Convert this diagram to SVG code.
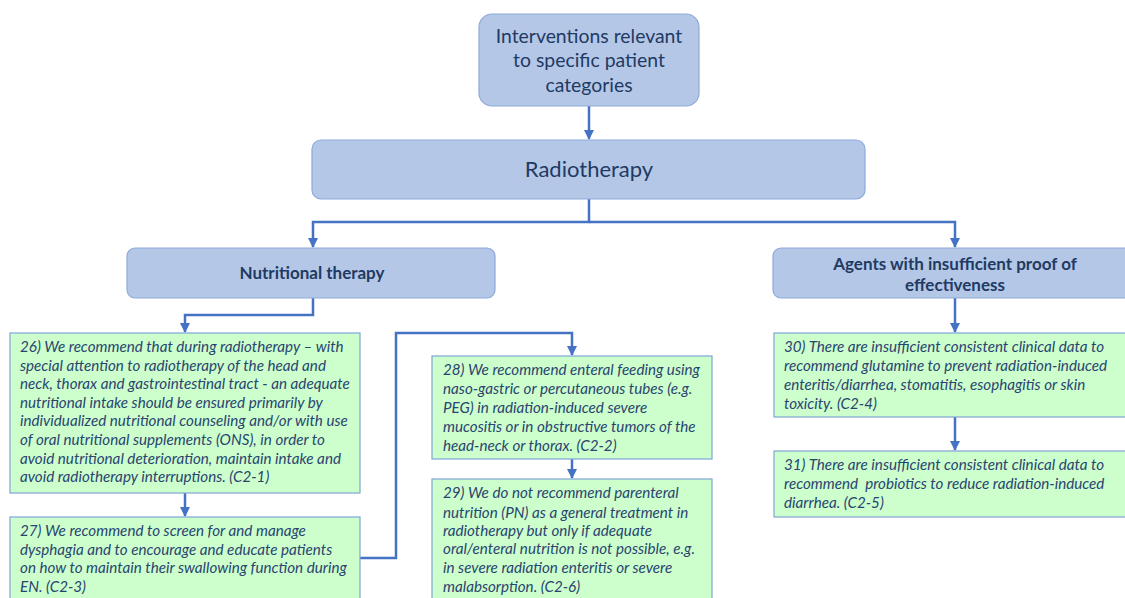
<svg xmlns="http://www.w3.org/2000/svg" width="1125" height="598" viewBox="0 0 1125 598">
<defs>
<marker id="arr" viewBox="0 0 10 10" refX="9" refY="5" markerWidth="4" markerHeight="4" orient="auto" markerUnits="strokeWidth">
<path d="M0,0 L10,5 L0,10 z" fill="#4472c4"/>
</marker>
<style>
.hb{fill:#b4c7e7;stroke:#8eaadb;stroke-width:1.2}
.gb{fill:#ccffcc;stroke:#7fa6d6;stroke-width:1.2}
.ht{font-family:Lato,"Liberation Sans",sans-serif;fill:#1f3a63;text-anchor:middle}
.bt{font-family:Lato,"Liberation Sans",sans-serif;fill:#1f3a63;font-weight:bold;font-size:17px;text-anchor:middle}
.it{font-family:Lato,"Liberation Sans",sans-serif;fill:#2a4470;font-style:italic;font-size:15.2px;white-space:pre}
.c{fill:none;stroke:#4472c4;stroke-width:2.5}
</style>
</defs>
<rect width="1125" height="598" fill="#ffffff"/>
<g id="connectors">
<path class="c" d="M589,106 V139" marker-end="url(#arr)"/>
<path class="c" d="M589,199 V222 H313 V247" marker-end="url(#arr)"/>
<path class="c" d="M589,222 H955 V247" marker-end="url(#arr)"/>
<path class="c" d="M313,298 V315 H185 V332" marker-end="url(#arr)"/>
<path class="c" d="M185,493 V516" marker-end="url(#arr)"/>
<path class="c" d="M360,558 H396 V333 H572 V355" marker-end="url(#arr)"/>
<path class="c" d="M572,459 V478" marker-end="url(#arr)"/>
<path class="c" d="M955,298 V332" marker-end="url(#arr)"/>
<path class="c" d="M955,417 V450" marker-end="url(#arr)"/>
</g>
<g id="n-interventions">
<rect class="hb" x="479" y="14" width="220" height="92" rx="13"/>
<text class="ht" font-size="19.4"><tspan x="589" y="43">Interventions relevant</tspan><tspan x="589" y="67">to specific patient</tspan><tspan x="589" y="92">categories</tspan></text>
</g>
<g id="n-radiotherapy">
<rect class="hb" x="312" y="140" width="553" height="59" rx="9"/>
<text class="ht" font-size="22" x="589" y="177">Radiotherapy</text>
</g>
<g id="n-nutritional">
<rect class="hb" x="127" y="248" width="368" height="50" rx="8"/>
<text class="bt" x="312" y="279">Nutritional therapy</text>
</g>
<g id="n-agents">
<rect class="hb" x="773" y="248" width="365" height="50" rx="8"/>
<text class="bt"><tspan x="955" y="270">Agents with insufficient proof of</tspan><tspan x="955" y="291">effectiveness</tspan></text>
</g>
<g id="n-26">
<rect class="gb" x="10" y="333" width="350" height="160"/>
<text class="it"><tspan x="20" y="352">26) We recommend that during radiotherapy – with</tspan><tspan x="20" y="371">special attention to radiotherapy of the head and</tspan><tspan x="20" y="389">neck, thorax and gastrointestinal tract - an adequate</tspan><tspan x="20" y="408">nutritional intake should be ensured primarily by</tspan><tspan x="20" y="426">individualized nutritional counseling and/or with use</tspan><tspan x="20" y="445">of oral nutritional supplements (ONS), in order to</tspan><tspan x="20" y="464">avoid nutritional deterioration, maintain intake and</tspan><tspan x="20" y="482">avoid radiotherapy interruptions. (C2-1)</tspan></text>
</g>
<g id="n-27">
<rect class="gb" x="10" y="517" width="350" height="90"/>
<text class="it"><tspan x="20" y="536">27) We recommend to screen for and manage</tspan><tspan x="20" y="555">dysphagia and to encourage and educate patients</tspan><tspan x="20" y="573">on how to maintain their swallowing function during</tspan><tspan x="20" y="592">EN. (C2-3)</tspan></text>
</g>
<g id="n-28">
<rect class="gb" x="432" y="356" width="280" height="103"/>
<text class="it"><tspan x="443" y="375">28) We recommend enteral feeding using</tspan><tspan x="443" y="394">naso-gastric or percutaneous tubes (e.g.</tspan><tspan x="443" y="413">PEG) in radiation-induced severe</tspan><tspan x="443" y="432">mucositis or in obstructive tumors of the</tspan><tspan x="443" y="451">head-neck or thorax. (C2-2)</tspan></text>
</g>
<g id="n-29">
<rect class="gb" x="432" y="479" width="280" height="130"/>
<text class="it"><tspan x="443" y="498">29) We do not recommend parenteral</tspan><tspan x="443" y="518">nutrition (PN) as a general treatment in</tspan><tspan x="443" y="536">radiotherapy but only if adequate</tspan><tspan x="443" y="554">oral/enteral nutrition is not possible, e.g.</tspan><tspan x="443" y="573">in severe radiation enteritis or severe</tspan><tspan x="443" y="592">malabsorption. (C2-6)</tspan></text>
</g>
<g id="n-30">
<rect class="gb" x="774" y="333" width="365" height="84"/>
<text class="it"><tspan x="784" y="352">30) There are insufficient consistent clinical data to</tspan><tspan x="784" y="371">recommend glutamine to prevent radiation-induced</tspan><tspan x="784" y="390">enteritis/diarrhea, stomatitis, esophagitis or skin</tspan><tspan x="784" y="409">toxicity. (C2-4)</tspan></text>
</g>
<g id="n-31">
<rect class="gb" x="774" y="451" width="365" height="66"/>
<text class="it"><tspan x="784" y="470">31) There are insufficient consistent clinical data to</tspan><tspan x="784" y="489">recommend  probiotics to reduce radiation-induced</tspan><tspan x="784" y="508">diarrhea. (C2-5)</tspan></text>
</g>
</svg>
